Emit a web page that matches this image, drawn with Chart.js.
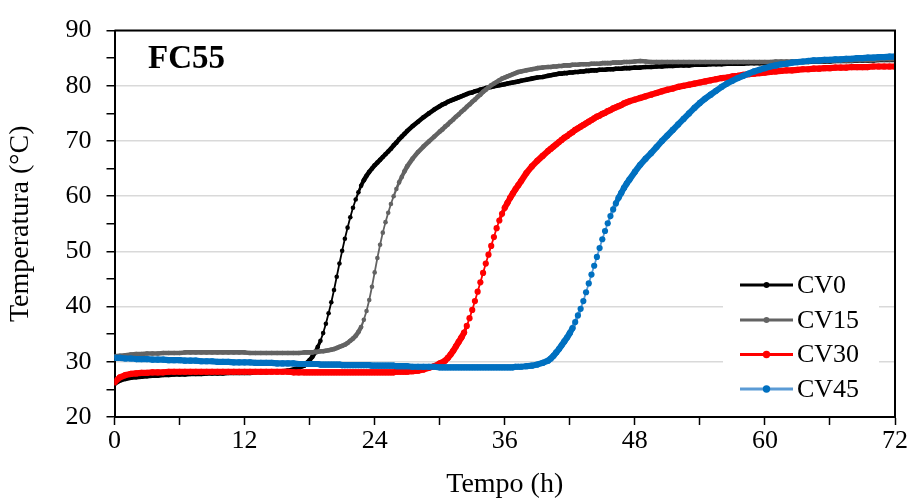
<!DOCTYPE html>
<html lang="pt">
<head>
<meta charset="UTF-8">
<title>FC55</title>
<script src="https://cdn.jsdelivr.net/npm/chart.js@4"></script>
<style>
  body { margin: 0; background: #fff; }
  #wrap { width: 912px; height: 499px; position: relative; }
</style>
</head>
<body>
<div id="wrap"><canvas id="chart"></canvas></div>
<script>
// Tempo (h) - sampling times
const tempo = [
  0,0.5,1,1.5,2,2.5,3,3.5,4,4.5,5,5.5,6,6.5,7,7.5,8,8.5,9,9.5,10,10.5,11,11.5,12,12.5,13,13.5,14,14.5,15,15.5,16,16.5,17,
  17.5,17.75,18,18.25,18.5,18.75,19,19.25,19.5,19.75,20,20.25,20.5,20.75,21,21.25,21.5,21.75,22,22.25,22.5,22.75,23,23.25,23.5,23.75,24,24.25,24.5,24.75,25,25.25,25.5,25.75,26,26.25,26.5,26.75,27,
  27.5,28,28.5,29,29.5,
  30,30.25,30.5,30.75,31,31.25,31.5,31.75,32,32.25,32.5,32.75,33,33.25,33.5,33.75,34,34.25,34.5,34.75,35,35.25,35.5,35.75,36,36.25,36.5,36.75,37,37.25,37.5,
  38,38.5,39,39.5,
  40,40.25,40.5,40.75,41,41.25,41.5,41.75,42,42.25,42.5,42.75,43,43.25,43.5,43.75,44,44.25,44.5,44.75,45,45.25,45.5,45.75,46,46.25,46.5,46.75,47,47.25,47.5,
  48,48.5,49,49.5,50,50.5,51,51.5,52,52.5,53,53.5,54,54.5,55,55.5,56,56.5,57,57.5,58,58.5,59,59.5,60,60.5,61,61.5,62,62.5,63,63.5,64,64.5,65,65.5,66,66.5,67,67.5,68,68.5,69,69.5,70,70.5,71,71.5,72
];

// Temperatura (°C)
const cv0 = [
  26.0,26.6,26.9,27.1,27.2,27.3,27.4,27.5,27.5,27.6,27.6,27.7,27.7,27.7,27.8,27.8,27.8,27.9,27.9,27.9,27.9,28.0,28.0,28.0,28.0,28.0,28.1,28.1,28.1,28.2,28.2,28.3,28.4,28.6,28.9,
  29.3,29.8,30.3,30.9,31.7,32.7,33.8,35.2,36.9,38.8,40.8,43.0,45.4,47.8,50.1,52.3,54.3,56.2,57.9,59.4,60.7,61.9,62.9,63.7,64.4,65.0,65.6,66.1,66.6,67.1,67.6,68.1,68.6,69.2,69.7,70.3,70.8,71.3,71.8,
  72.7,73.5,74.3,75.0,75.7,
  76.3,76.6,76.8,77.1,77.3,77.5,77.7,77.9,78.1,78.3,78.5,78.7,78.8,79.0,79.1,79.3,79.4,79.6,79.7,79.8,79.9,80.0,80.1,80.2,80.3,80.4,80.5,80.6,80.7,80.8,80.9,
  81.1,81.3,81.5,81.6,
  81.8,81.9,82.0,82.1,82.2,82.2,82.3,82.3,82.4,82.4,82.5,82.5,82.6,82.6,82.7,82.7,82.8,82.8,82.8,82.9,82.9,82.9,83.0,83.0,83.0,83.1,83.1,83.1,83.2,83.2,83.2,
  83.3,83.3,83.4,83.4,83.5,83.5,83.6,83.6,83.7,83.7,83.7,83.8,83.8,83.8,83.9,83.9,83.9,84.0,84.0,84.0,84.0,84.1,84.1,84.1,84.1,84.2,84.2,84.2,84.2,84.3,84.3,84.3,84.3,84.4,84.4,84.4,84.4,84.5,84.5,84.5,84.5,84.6,84.6,84.6,84.6,84.7,84.7,84.7,84.7
];
const cv15 = [
  31.0,31.1,31.2,31.3,31.4,31.4,31.5,31.5,31.5,31.6,31.6,31.6,31.6,31.7,31.7,31.7,31.7,31.7,31.7,31.7,31.7,31.7,31.7,31.7,31.7,31.6,31.6,31.6,31.6,31.6,31.6,31.6,31.6,31.6,31.6,
  31.7,31.7,31.7,31.7,31.8,31.8,31.9,31.9,32.0,32.1,32.2,32.3,32.5,32.7,32.9,33.1,33.4,33.8,34.2,34.7,35.4,36.3,37.6,39.2,41.2,43.6,46.2,48.8,51.2,53.4,55.3,57.0,58.6,60.0,61.3,62.5,63.5,64.5,65.4,
  66.8,68.0,69.0,69.9,70.8,
  71.7,72.1,72.6,73.0,73.5,73.9,74.4,74.8,75.3,75.7,76.2,76.6,77.1,77.5,78.0,78.4,78.9,79.3,79.7,80.1,80.4,80.7,81.0,81.3,81.5,81.7,81.9,82.1,82.3,82.5,82.6,
  82.8,83.0,83.2,83.3,
  83.4,83.4,83.5,83.5,83.6,83.6,83.7,83.7,83.7,83.8,83.8,83.8,83.9,83.9,83.9,83.9,84.0,84.0,84.0,84.0,84.1,84.1,84.1,84.1,84.2,84.2,84.2,84.2,84.3,84.3,84.3,
  84.4,84.5,84.4,84.3,84.3,84.3,84.3,84.3,84.3,84.3,84.3,84.3,84.3,84.3,84.3,84.3,84.3,84.3,84.3,84.3,84.3,84.3,84.3,84.3,84.3,84.3,84.4,84.4,84.4,84.4,84.4,84.4,84.5,84.5,84.5,84.5,84.5,84.6,84.6,84.6,84.6,84.7,84.7,84.7,84.7,84.8,84.8,84.8,84.8
];
const cv30 = [
  26.3,27.2,27.6,27.8,27.9,28.0,28.0,28.1,28.1,28.1,28.2,28.2,28.2,28.2,28.2,28.2,28.2,28.2,28.2,28.2,28.2,28.2,28.2,28.2,28.2,28.2,28.2,28.2,28.2,28.2,28.2,28.2,28.2,28.1,28.1,
  28.1,28.1,28.1,28.1,28.1,28.1,28.1,28.1,28.1,28.1,28.1,28.1,28.1,28.1,28.1,28.1,28.1,28.1,28.1,28.1,28.1,28.1,28.1,28.1,28.1,28.1,28.1,28.1,28.1,28.1,28.1,28.1,28.1,28.1,28.2,28.2,28.2,28.2,28.2,
  28.3,28.4,28.6,28.9,29.2,
  29.7,29.9,30.2,30.7,31.3,32.0,32.8,33.6,34.4,35.3,36.5,37.9,39.4,41.0,42.7,44.4,46.1,47.8,49.4,51.0,52.6,54.2,55.6,56.8,57.9,58.8,59.7,60.5,61.3,62.0,62.7,
  64.2,65.4,66.4,67.3,
  68.2,68.6,69.0,69.4,69.8,70.2,70.6,70.9,71.3,71.6,72.0,72.3,72.6,72.9,73.2,73.5,73.8,74.1,74.4,74.6,74.9,75.1,75.4,75.6,75.9,76.1,76.3,76.5,76.8,77.0,77.2,
  77.5,77.8,78.1,78.4,78.7,79.0,79.3,79.5,79.8,80.0,80.2,80.4,80.6,80.8,81.0,81.2,81.4,81.5,81.7,81.8,82.0,82.1,82.2,82.3,82.4,82.5,82.6,82.7,82.8,82.8,82.9,83.0,83.0,83.1,83.1,83.2,83.2,83.3,83.3,83.3,83.4,83.4,83.4,83.4,83.5,83.5,83.5,83.5,83.5
];
const cv45 = [
  30.7,30.7,30.6,30.6,30.5,30.5,30.5,30.4,30.4,30.4,30.3,30.3,30.3,30.2,30.2,30.2,30.1,30.1,30.1,30.0,30.0,30.0,29.9,29.9,29.9,29.9,29.8,29.8,29.8,29.8,29.7,29.7,29.7,29.7,29.6,
  29.6,29.6,29.6,29.6,29.6,29.6,29.5,29.5,29.5,29.5,29.5,29.5,29.5,29.5,29.4,29.4,29.4,29.4,29.4,29.4,29.4,29.4,29.4,29.4,29.4,29.3,29.3,29.3,29.3,29.3,29.3,29.3,29.3,29.3,29.2,29.2,29.2,29.2,29.2,
  29.1,29.1,29.1,29.1,29.1,
  29.0,29.0,29.0,29.0,29.0,29.0,29.0,29.0,29.0,29.0,29.0,29.0,29.0,29.0,29.0,29.0,29.0,29.0,29.0,29.0,29.0,29.0,29.0,29.0,29.0,29.0,29.0,29.0,29.1,29.1,29.1,
  29.2,29.3,29.5,29.8,
  30.2,30.6,31.1,31.7,32.3,33.0,33.7,34.4,35.2,36.1,37.2,38.4,39.6,41.0,42.6,44.2,45.8,47.4,49.0,50.6,52.2,53.7,55.1,56.4,57.6,58.7,59.7,60.6,61.5,62.3,63.0,
  64.4,65.7,66.8,67.8,68.9,70.0,71.0,72.0,73.0,74.0,75.0,76.0,76.9,77.7,78.4,79.1,79.8,80.4,80.9,81.4,81.8,82.2,82.6,82.9,83.2,83.5,83.7,83.9,84.0,84.2,84.3,84.4,84.5,84.6,84.6,84.7,84.7,84.8,84.8,84.9,84.9,85.0,85.0,85.1,85.1,85.2,85.2,85.3,85.3
];

const seriesNames = ['CV0', 'CV15', 'CV30', 'CV45'];
const seriesValues = [cv0, cv15, cv30, cv45];
const xTicks = [0, 12, 24, 36, 48, 60, 72];
const yTicks = [20, 30, 40, 50, 60, 70, 80, 90];

const lineColors = ['#000000', '#636363', '#ff0000', '#5b9bd5'];
const dotColors = ['#000000', '#636363', '#ff0000', '#0070c0'];
const dotSize = [2.3, 2.3, 3.1, 3.1];

const serif = "'Liberation Serif', 'Times New Roman', serif";
Chart.defaults.font.family = serif;
Chart.defaults.color = '#000';

// the logger wrote a reading every 15 min; where those readings sit closer
// than a marker they merge into a solid band, elsewhere the thin line shows
function gapAt(c) {
  const dt = (tempo[c.p1DataIndex] - tempo[c.p0DataIndex]) || 0.25;
  return Math.hypot(c.p1.x - c.p0.x, c.p1.y - c.p0.y) * 0.25 / dt;
}
function segWidth(i) {
  return c => {
    const gap = gapAt(c);
    const full = dotSize[i] * 2;
    if (gap <= 5.5) return full;
    if (gap >= 8) return 1.8;
    return full - (full - 1.8) * (gap - 5.5) / 2.5;
  };
}

const datasets = seriesNames.map((name, i) => ({
  label: name,
  data: tempo.map((t, j) => ({ x: t, y: seriesValues[i][j] })),
  borderColor: lineColors[i],
  backgroundColor: dotColors[i],
  pointBackgroundColor: dotColors[i],
  pointBorderWidth: 0,
  pointRadius: dotSize[i],
  borderWidth: 1.8,
  borderCapStyle: 'round',
  borderJoinStyle: 'round',
  segment: {
    borderWidth: segWidth(i),
    borderColor: c => gapAt(c) <= 6.5 ? dotColors[i] : lineColors[i]
  },
  tension: 0,
  order: 4 - i   // CV45 ends up drawn on top, like the original
}));

// frame, panel label and legend box drawn on the canvas
const extras = {
  id: 'extras',
  afterDraw(chart) {
    const { ctx, chartArea: a } = chart;
    ctx.save();
    ctx.strokeStyle = '#000';
    ctx.lineWidth = 2;
    ctx.beginPath();
    ctx.moveTo(a.left, a.top);
    ctx.lineTo(a.right, a.top);
    ctx.lineTo(a.right, a.bottom);
    ctx.stroke();

    ctx.fillStyle = '#000';
    ctx.font = 'bold 33px ' + serif;
    ctx.textBaseline = 'alphabetic';
    ctx.fillText('FC55', 148, 68);

    // legend
    ctx.fillStyle = '#fff';
    ctx.fillRect(723, 268, 156, a.bottom - 269);
    ctx.font = '26px ' + serif;
    ctx.textBaseline = 'middle';
    const rows = [285, 320, 354.5, 389];
    seriesNames.forEach((name, i) => {
      const y = rows[i];
      ctx.strokeStyle = lineColors[i];
      ctx.lineWidth = 3;
      ctx.beginPath();
      ctx.moveTo(740, y);
      ctx.lineTo(793, y);
      ctx.stroke();
      ctx.fillStyle = dotColors[i];
      ctx.beginPath();
      ctx.arc(766.5, y, dotSize[i] + 0.6, 0, Math.PI * 2);
      ctx.fill();
      ctx.fillStyle = '#000';
      ctx.fillText(name, 797, y + 1);
    });
    ctx.restore();
  }
};

new Chart(document.getElementById('chart'), {
  type: 'line',
  data: { datasets },
  options: {
    responsive: true,
    maintainAspectRatio: false,
    animation: false,
    events: [],
    parsing: false,
    layout: { padding: { top: 21, right: 17, left: 0, bottom: 0 } },
    plugins: { legend: { display: false }, tooltip: { enabled: false } },
    scales: {
      x: {
        type: 'linear',
        min: 0, max: 72,
        afterFit: s => { s.height = 82; },
        border: { color: '#000', width: 2 },
        grid: { drawOnChartArea: false, tickColor: '#000', tickLength: 8, tickWidth: 1.5 },
        ticks: {
          stepSize: 6, autoSkip: false, maxRotation: 0, padding: 1,
          font: { size: 26 }, color: '#000',
          callback: v => xTicks.includes(v) ? v : ''
        },
        title: { display: true, text: 'Tempo (h)', font: { size: 28, lineHeight: 1 }, color: '#000', padding: { top: 0, bottom: 0 } }
      },
      y: {
        min: 20, max: 90,
        afterFit: s => { s.width = 114.5; },
        border: { color: '#000', width: 2 },
        grid: {
          color: c => (c.tick && yTicks.includes(c.tick.value)) ? '#d9d9d9' : 'rgba(0,0,0,0)',
          lineWidth: 1.5,
          tickColor: '#000', tickLength: 8, tickWidth: 1.5
        },
        ticks: {
          stepSize: 5, autoSkip: false, padding: 15,
          font: { size: 26 }, color: '#000',
          callback: v => yTicks.includes(v) ? v : ''
        },
        title: { display: true, text: 'Temperatura (°C)', font: { size: 28, lineHeight: 1 }, color: '#000', padding: { top: 7, bottom: 0 } }
      }
    }
  },
  plugins: [extras]
});
</script>
</body>
</html>
